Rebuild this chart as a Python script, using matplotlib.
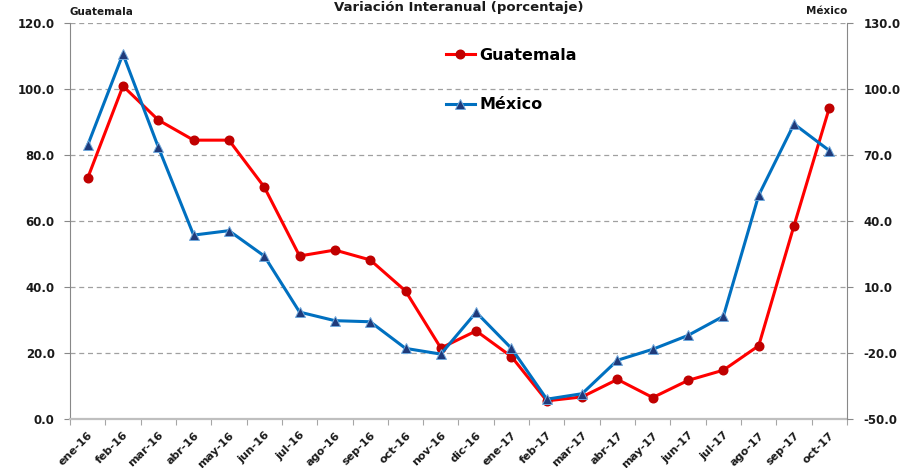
import matplotlib
matplotlib.use('Agg')
import matplotlib.pyplot as plt
import numpy as np

months = ['ene-16', 'feb-16', 'mar-16', 'abr-16', 'may-16', 'jun-16', 'jul-16',
          'ago-16', 'sep-16', 'oct-16', 'nov-16', 'dic-16', 'ene-17', 'feb-17',
          'mar-17', 'abr-17', 'may-17', 'jun-17', 'jul-17', 'ago-17', 'sep-17',
          'oct-17']
guatemala = [73.0, 100.9, 90.6, 84.5, 84.5, 70.3, 49.4, 51.2, 48.2, 38.8, 21.5,
             26.7, 18.9, 5.5, 6.7, 12.0, 6.5, 11.7, 14.8, 22.2, 58.6, 94.3]
mexico = [74.4, 115.9, 73.6, 33.6, 35.6, 24.1, -1.4, -5.3, -5.8, -17.9, -20.5,
          -1.5, -17.9, -41.0, -38.5, -23.3, -18.3, -12.0, -3.3, 51.7, 84.1, 72.0]
left_ticks = [0, 20, 40, 60, 80, 100, 120]
right_ticks = [-50, -20, 10, 40, 70, 100, 130]

W, H = 912, 468
fig = plt.figure(figsize=(W / 100, H / 100), dpi=100)
ax = fig.add_axes([70 / W, 1 - 419 / H, 777 / W, 396 / H])
ax2 = ax.twinx()

x = np.arange(len(months))
l1, = ax.plot(x, guatemala, color='#FF0000', lw=2.2, marker='o', ms=6.2,
              mfc='#C00000', mec='#C00000', label='Guatemala', zorder=3)
l2, = ax2.plot(x, mexico, color='#0070C0', lw=2.2, marker='^', ms=6.5,
               mfc='#1F3A7A', mec='#6FA8DC', mew=0.7, label='México', zorder=3)

ax.set_xlim(-0.5, len(months) - 0.5)
ax.set_ylim(0, 120)
ax2.set_ylim(-50, 130)

tick_font = dict(fontsize=8.5, fontweight='bold', color='#1a1a1a')
ax.set_yticks(left_ticks)
ax.set_yticklabels([f"{v:.1f}" for v in left_ticks], **tick_font)
ax2.set_yticks(right_ticks)
ax2.set_yticklabels([f"{v:.1f}" for v in right_ticks], **tick_font)

ax.set_xticks(np.arange(-0.5, len(months), 1))
ax.set_xticklabels([])
ax.set_xticks(x, minor=True)
ax.set_xticklabels(months, minor=True, rotation=45, ha='right', va='top',
                   rotation_mode='anchor', fontsize=8, fontweight='bold',
                   color='#1a1a1a')
ax.tick_params(axis='x', which='major', length=4, color='#A6A6A6', direction='out')
ax.tick_params(axis='x', which='minor', length=0, pad=8)
ax.tick_params(axis='y', length=4, color='#888888', pad=7)
ax2.tick_params(axis='y', length=4, color='#888888', pad=8)

for a in (ax, ax2):
    a.spines['top'].set_visible(False)
ax.spines['right'].set_visible(False)
ax2.spines['left'].set_visible(False)
ax2.spines['bottom'].set_visible(False)
ax.spines['left'].set_color('#888888')
ax2.spines['right'].set_color('#888888')
ax.spines['bottom'].set_color('#BFBFBF')
ax.spines['bottom'].set_linewidth(1.6)

ax.yaxis.grid(True, color='#A0A0A0', linestyle=(0, (4, 3)), linewidth=0.9)
ax.set_axisbelow(True)

fig.text(459 / W, 1 - 11 / H, 'Variación Interanual (porcentaje)', ha='center',
         va='baseline', fontsize=9.5, fontweight='bold', color='#1a1a1a')
fig.text(70 / W, 1 - 15 / H, 'Guatemala', ha='left', va='baseline',
         fontsize=7.5, fontweight='bold', color='#1a1a1a')
fig.text(847 / W, 1 - 14 / H, 'México', ha='right', va='baseline',
         fontsize=7.5, fontweight='bold', color='#1a1a1a')

leg = ax2.legend(handles=[l1, l2], loc='upper left',
                 bbox_to_anchor=(446 / W, 1 - 48 / H), bbox_transform=fig.transFigure,
                 frameon=False, borderpad=0, borderaxespad=0,
                 handlelength=1.8, handletextpad=0.3, labelspacing=2.15,
                 prop=dict(size=11.5, weight='bold'))

fig.savefig('out.png', dpi=100)
